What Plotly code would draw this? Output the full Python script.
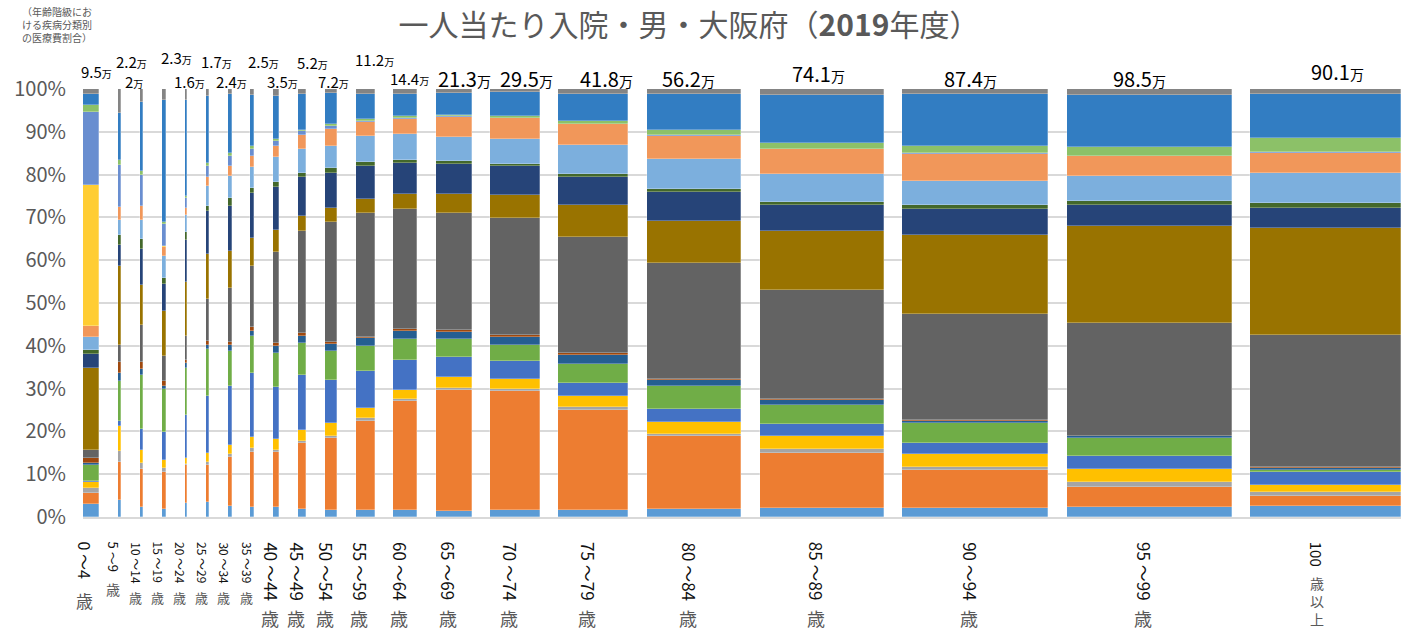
import plotly.graph_objects as go

# ---------------- data ----------------
age_labels = ["0～4歳", "5～9歳", "10～14歳", "15～19歳", "20～24歳", "25～29歳", "30～34歳",
              "35～39歳", "40～44歳", "45～49歳", "50～54歳", "55～59歳", "60～64歳", "65～69歳",
              "70～74歳", "75～79歳", "80～84歳", "85～89歳", "90～94歳", "95～99歳", "100歳以上"]

# per-capita inpatient cost (万円) -> also bar width
cost_man = [9.5, 2.2, 2.0, 2.3, 1.6, 1.7, 2.4, 2.5, 3.5, 5.2, 7.2, 11.2, 14.4, 21.3, 29.5,
            41.8, 56.2, 74.1, 87.4, 98.5, 90.1]

# share of cost by disease chapter (%), one list per chapter, bottom -> top
infectious   = [3.0, 3.9, 2.3, 1.9, 3.3, 3.4, 2.6, 2.3, 2.3, 1.9, 1.7, 1.6, 1.6, 1.3, 1.6, 1.6, 1.9, 2.1, 2.1, 2.3, 2.6]
neoplasms    = [2.7, 9.0, 9.0, 8.5, 8.8, 8.6, 11.5, 13.0, 12.8, 15.3, 16.7, 20.9, 25.5, 28.3, 27.8, 23.4, 17.0, 12.9, 8.8, 4.8, 2.3]
blood        = [1.1, 2.5, 1.3, 1.0, 0.3, 0.9, 0.6, 0.8, 0.5, 0.6, 0.5, 0.6, 0.5, 0.5, 0.6, 0.7, 0.6, 1.0, 0.9, 1.2, 1.0]
endocrine    = [1.5, 5.8, 3.1, 1.8, 1.4, 1.9, 2.1, 2.5, 2.6, 2.6, 3.0, 2.3, 2.2, 2.6, 2.3, 2.6, 2.7, 3.0, 3.0, 2.9, 1.6]
mental       = [0.2, 1.2, 4.9, 6.5, 10.1, 13.4, 13.8, 15.0, 12.1, 12.7, 10.0, 8.8, 6.9, 4.8, 4.3, 3.0, 3.1, 2.8, 2.4, 3.1, 3.1]
nervous      = [3.7, 9.3, 12.6, 10.1, 10.9, 10.9, 8.2, 8.6, 7.9, 7.4, 6.8, 5.8, 5.0, 4.1, 3.7, 4.6, 5.4, 4.5, 4.8, 4.2, 0.4]
eye          = [0.5, 1.9, 1.3, 0.8, 1.0, 1.0, 1.2, 1.3, 1.6, 1.7, 1.6, 1.8, 1.8, 1.7, 1.9, 2.0, 1.4, 1.2, 0.5, 0.4, 0.4]
ear          = [1.1, 2.7, 1.6, 1.0, 0.9, 1.0, 0.9, 1.0, 0.8, 0.6, 0.5, 0.3, 0.4, 0.4, 0.4, 0.4, 0.2, 0.2, 0.2, 0.1, 0.4]
circulatory  = [1.9, 4.0, 8.6, 5.8, 5.6, 9.7, 12.6, 14.2, 21.2, 23.8, 27.9, 29.0, 28.2, 27.4, 27.3, 27.2, 27.0, 25.5, 24.8, 26.5, 30.8]
respiratory  = [19.2, 18.3, 9.5, 10.7, 12.5, 10.5, 8.6, 6.5, 5.1, 3.7, 3.3, 3.1, 3.5, 4.3, 5.6, 7.6, 10.0, 13.7, 18.5, 22.7, 24.9]
digestive    = [3.2, 5.0, 8.3, 6.2, 9.9, 9.9, 10.5, 10.5, 10.1, 9.0, 8.3, 7.9, 7.2, 7.0, 6.6, 6.6, 6.8, 6.1, 5.9, 4.8, 4.8]
skin         = [0.9, 2.2, 2.5, 1.4, 1.8, 1.3, 1.9, 1.2, 1.1, 0.8, 1.0, 0.8, 0.6, 0.7, 0.5, 0.5, 0.6, 0.8, 0.9, 1.1, 1.2]
musculo      = [3.2, 3.7, 4.3, 5.2, 4.0, 4.7, 4.9, 4.9, 5.8, 5.6, 5.2, 6.2, 6.2, 5.8, 5.8, 7.0, 7.1, 6.5, 5.8, 5.8, 6.9]
genitourin   = [2.5, 2.9, 3.4, 2.1, 1.6, 2.0, 2.5, 2.6, 2.7, 3.3, 4.0, 3.1, 3.4, 4.5, 4.9, 4.7, 5.4, 5.8, 6.3, 4.6, 4.8]
pregnancy    = [0.0] * 21
perinatal    = [32.9, 0.0, 0.0, 0.2, 0.0, 0.0, 0.0, 0.0, 0.0, 0.0, 0.0, 0.0, 0.0, 0.0, 0.0, 0.0, 0.0, 0.0, 0.0, 0.0, 0.0]
congenital   = [17.1, 9.9, 7.2, 5.1, 2.2, 2.6, 2.3, 1.6, 1.0, 0.9, 0.6, 0.4, 0.4, 0.2, 0.2, 0.1, 0.1, 0.1, 0.1, 0.1, 0.1]
symptoms     = [1.7, 1.2, 0.9, 0.5, 0.6, 0.6, 0.6, 0.8, 0.5, 0.4, 0.6, 0.5, 0.5, 0.4, 0.4, 0.8, 1.2, 1.4, 1.8, 2.1, 3.3]
injury       = [2.6, 10.9, 16.0, 28.3, 22.3, 15.7, 13.9, 11.9, 10.0, 8.4, 7.2, 5.8, 5.1, 5.1, 5.5, 6.3, 8.4, 11.1, 12.0, 12.1, 10.3]
other        = [1.1, 5.6, 3.1, 2.6, 2.6, 1.6, 1.1, 1.3, 1.7, 1.1, 0.9, 1.1, 1.1, 0.9, 0.8, 1.1, 1.2, 1.5, 1.2, 1.5, 1.2]

series = [
    ("感染症及び寄生虫症", infectious, "#5B9BD5"),
    ("新生物", neoplasms, "#ED7D31"),
    ("血液及び造血器の疾患並びに免疫機構の障害", blood, "#A5A5A5"),
    ("内分泌，栄養及び代謝疾患", endocrine, "#FFC000"),
    ("精神及び行動の障害", mental, "#4472C4"),
    ("神経系の疾患", nervous, "#70AD47"),
    ("眼及び付属器の疾患", eye, "#255E91"),
    ("耳及び乳様突起の疾患", ear, "#9E480E"),
    ("循環器系の疾患", circulatory, "#636363"),
    ("呼吸器系の疾患", respiratory, "#997300"),
    ("消化器系の疾患", digestive, "#264478"),
    ("皮膚及び皮下組織の疾患", skin, "#43682B"),
    ("筋骨格系及び結合組織の疾患", musculo, "#7CAFDD"),
    ("腎尿路生殖器系の疾患", genitourin, "#F1975A"),
    ("妊娠，分娩及び産じょく", pregnancy, "#B7B7B7"),
    ("周産期に発生した病態", perinatal, "#FFCD33"),
    ("先天奇形，変形及び染色体異常", congenital, "#698ED0"),
    ("症状，徴候及び異常臨床所見等", symptoms, "#8CC168"),
    ("損傷，中毒及びその他の外因の影響", injury, "#327DC2"),
    ("その他", other, "#848484"),
]

# ---------------- layout helpers ----------------
W, H = 1411, 633
PL, PR, PT, PB = 83, 10, 89, 116          # plot-area margins (px)
ph = H - PT - PB
GAP = 11.2                                 # gap between bars, in 万 units

lefts, acc = [], 0.0
for c in cost_man:
    lefts.append(acc)
    acc += c + GAP
x_total = acc - GAP
centers = [l + c / 2 for l, c in zip(lefts, cost_man)]

def py2paper(py):
    return (H - PB - py) / ph

fig = go.Figure()
for name, vals, color in series:
    fig.add_trace(go.Bar(
        x=centers, y=vals, width=cost_man, name=name,
        marker=dict(color=color, line=dict(color="rgba(255,255,255,0.45)", width=0.6)),
        hovertemplate=name + ": %{y:.1f}%<extra></extra>",
    ))

FONT = "Noto Sans CJK JP, Noto Sans, sans-serif"
ann = []

# cost labels above the bars
label_y_px = [71.7, 61, 81, 58, 81, 61, 81, 61, 81, 62, 81, 59, 78, 78.3, 78.3, 78.3, 79, 73.3, 78.3, 78.3, 71.7]
label_dx = [6, 12, -8, 13, 4, 9, 2, 11, 6, 10, 2, 9, 4, 11, 11, 13, -6, -3, -5, -10, 12]
for i, c in enumerate(cost_man):
    big = c >= 20
    fs = 20 if big else 15
    ann.append(dict(
        x=centers[i], y=py2paper(label_y_px[i]), xref="x", yref="paper",
        text=f"{c:g}<span style='font-size:{int(fs*0.72)}px'>万</span>",
        showarrow=False, xanchor="center", yanchor="middle", xshift=label_dx[i], borderpad=0,
        font=dict(family=FONT, size=fs, color="#000000"),
    ))

# vertical x-axis category labels
small_idx = {2, 3, 4, 5, 6, 7}
for i, lab in enumerate(age_labels):
    if i in small_idx:
        fs, sai_py, sai_fs = 12, 597, 13
    elif i == 1:
        fs, sai_py, sai_fs = 13, 589, 14
    elif i == 0:
        fs, sai_py, sai_fs = 16, 600, 17
    else:
        fs, sai_py, sai_fs = 17, 618, 18
    if "～" in lab:
        a, b = lab.replace("歳", "").split("～")
        rot = f"{a} ～{b}"
        ann.append(dict(x=centers[i], y=py2paper(541), xref="x", yref="paper", text=rot,
                        textangle=90, showarrow=False, xanchor="center", yanchor="top",
                        xshift=-5, borderpad=0, font=dict(family=FONT, size=fs, color="#111111")))
        ann.append(dict(x=centers[i], y=py2paper(sai_py), xref="x", yref="paper", text="歳",
                        showarrow=False, xanchor="center", yanchor="middle", xshift=-6, borderpad=0,
                        font=dict(family=FONT, size=sai_fs, color="#595959")))
    else:
        num = lab.split("歳")[0]
        rest = lab[len(num):]
        ann.append(dict(x=centers[i], y=py2paper(541), xref="x", yref="paper", text=num,
                        textangle=90, showarrow=False, xanchor="center", yanchor="top",
                        xshift=-9, borderpad=0, font=dict(family=FONT, size=15, color="#111111")))
        ann.append(dict(x=centers[i], y=py2paper(572), xref="x", yref="paper",
                        text="<br>".join(rest), showarrow=False, xanchor="center", yanchor="top",
                        xshift=-9, borderpad=0,
                        font=dict(family=FONT, size=14, color="#595959")))

# top-left note
ann.append(dict(x=(20 - PL) / (W - PL - PR), y=py2paper(24), xref="paper", yref="paper",
                text="（年齢階級にお<br>ける疾病分類別<br>の医療費割合）", align="left",
                showarrow=False, xanchor="left", yanchor="middle",
                font=dict(family=FONT, size=10, color="#595959")))

fig.update_layout(
    width=W, height=H, autosize=False,
    margin=dict(l=PL, r=PR, t=PT, b=PB, pad=0),
    barmode="stack", barnorm="percent", bargap=0,
    showlegend=False,
    paper_bgcolor="white", plot_bgcolor="white",
    title=dict(text="一人当たり入院・男・大阪府（<b>2019</b>年度）", x=689 / W, xref="container",
               xanchor="center", y=1 - 25 / H, yref="container", yanchor="middle",
               font=dict(family=FONT, size=30, color="#595959")),
    xaxis=dict(range=[0, x_total], showticklabels=False, showgrid=False, zeroline=False,
               showline=True, linecolor="#d9d9d9", linewidth=1.5, fixedrange=True),
    yaxis=dict(range=[0, 100], dtick=10, ticksuffix="%", showgrid=True, gridcolor="#d9d9d9",
               gridwidth=1.5, zeroline=False, ticks="", ticklabelstandoff=16,
               tickfont=dict(family=FONT, size=20, color="#595959"), fixedrange=True),
    annotations=ann,
    font=dict(family=FONT),
)

fig.write_html("out.html", config={"displayModeBar": False},
               post_script="document.body.style.margin='0';document.body.style.overflow='hidden';")
